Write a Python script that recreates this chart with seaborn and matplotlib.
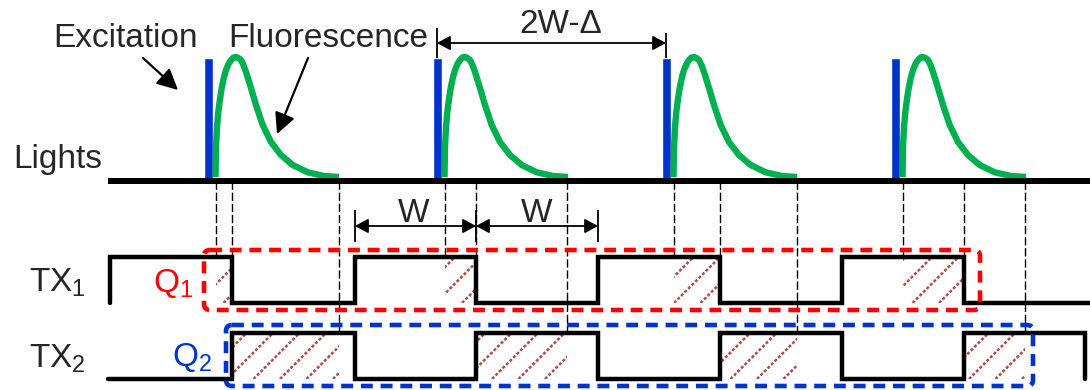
import matplotlib.pyplot as plt
import matplotlib.patches as mpatches
import numpy as np
import pandas as pd
import seaborn as sns

# excitation pulse times (px along the time axis)
excitation = [208, 437, 666, 895]
# one fluorescence decay: offset from pulse / height
fluor_dt = [7.5, 8, 9, 10.3, 12, 13.7, 16, 18, 20.5, 23, 25.5, 28, 30.5, 33,
            35.5, 38, 40.5, 43, 48, 54.7, 63, 73, 84.7, 99.7, 116, 131]
fluor_h = [0, 30, 50, 65, 78, 89, 100, 107, 113, 117, 119.5, 120, 119, 117,
           112, 105, 97, 89, 72, 52, 35, 22, 12, 4.7, 1, 0]

# gate signals (steps)
tx1_t = [110, 110, 232, 355, 476, 598, 720, 842, 964, 1090]
tx1_v = [0, 1, 0, 1, 0, 1, 0, 1, 0, 0]
tx2_t = [108, 232, 355, 476, 598, 720, 842, 964, 1085]
tx2_v = [0, 1, 0, 1, 0, 1, 0, 1, 0]
tx1_fall = [232, 476, 720, 964]
fluor_end = [339, 567, 797, 1025]

# integrated windows
q1_win = [(216, 232), (445, 476), (674, 720), (903, 964)]
q2_win = [(232, 339), (476, 567), (720, 797), (964, 1025)]

BLUE = "#0033CC"
GREEN = "#00B050"
RED = "#FF0000"
HATCH = "#B04A44"

sns.set_theme(style="white")
plt.rcParams["font.family"] = ["Liberation Sans", "DejaVu Sans"]
plt.rcParams["mathtext.fontset"] = "custom"
plt.rcParams["mathtext.rm"] = "Liberation Sans"

base = 181
tx1_hi, tx1_lo = 257, 303
tx2_hi, tx2_lo = 333, 379

fig = plt.figure(figsize=(10.9, 3.9), dpi=100)
ax = fig.add_axes([0, 0, 1, 1])

# excitation pulses
ax.bar(excitation, height=58 - base, bottom=base, width=9, color=BLUE, zorder=2)

# fluorescence curves
rows = [(k, c + dt, base - 4 - h)
        for k, c in enumerate(excitation)
        for dt, h in zip(fluor_dt, fluor_h)]
df = pd.DataFrame(rows, columns=["pulse", "t", "y"])
sns.lineplot(data=df, x="t", y="y", units="pulse", estimator=None, sort=False,
             color=GREEN, lw=4.6, ax=ax, zorder=3, legend=False,
             solid_joinstyle="round", solid_capstyle="butt")

# lights baseline
ax.plot([108, 1090], [base, base], color="black", lw=4.3, zorder=4,
        solid_capstyle="butt")

# dashed guide lines
guide = dict(colors="black", lw=1.0, linestyles=(0, (6, 2)), zorder=1)
ax.vlines([c + 8 for c in excitation], base, tx1_hi, **guide)
ax.vlines(tx1_fall, base, tx1_hi, **guide)
ax.vlines(fluor_end, base, tx2_hi, **guide)

# hatched integration windows (dotted diagonal lines, clipped to the window)
def hatch(x0, x1, top, bot):
    clip = mpatches.Rectangle((x0, top), x1 - x0, bot - top, fill=False, lw=0)
    ax.add_patch(clip)
    for k in np.arange(871 - 26.5 * 30, 871 + 26.5 * 30, 26.5):
        if k - bot > x1 or k - top < x0:
            continue
        ln, = ax.plot([k - bot, k - top], [bot, top], color=HATCH, lw=1.8,
                      ls=(0, (1.2, 0.8)), zorder=2)
        ln.set_clip_path(clip)

for x0, x1 in q1_win:
    hatch(x0, x1, tx1_hi, tx1_lo)
for x0, x1 in q2_win:
    hatch(x0, x1, tx2_hi, tx2_lo)

# TX signals
def level(v, hi, lo):
    return [hi if s else lo for s in v]

ax.plot(tx1_t, level(tx1_v, tx1_hi, tx1_lo), drawstyle="steps-post", color="black",
        lw=3.2, solid_joinstyle="miter", solid_capstyle="round", zorder=5)
ax.plot(tx2_t, level(tx2_v, tx2_hi, tx2_lo), drawstyle="steps-post", color="black",
        lw=3.2, solid_joinstyle="miter", solid_capstyle="round", zorder=5)

# dashed Q boxes
ax.add_patch(mpatches.FancyBboxPatch((204, 250), 776, 60,
                                     boxstyle="round,pad=0,rounding_size=6",
                                     fill=False, ec=RED, lw=3.3,
                                     ls=(0, (2.6, 1.7)), zorder=6))
ax.add_patch(mpatches.FancyBboxPatch((226, 325), 807, 61,
                                     boxstyle="round,pad=0,rounding_size=6",
                                     fill=False, ec=BLUE, lw=3.3,
                                     ls=(0, (2.6, 1.7)), zorder=6))

# dimension arrows
dim = dict(arrowstyle="<|-|>,head_length=0.57,head_width=0.31", mutation_scale=14,
           lw=1.3, color="black", shrinkA=0, shrinkB=0)
ax.annotate("", xy=(437, 43), xytext=(666, 43), arrowprops=dim)
ax.annotate("", xy=(355, 226), xytext=(476, 226), arrowprops=dim)
ax.annotate("", xy=(476, 226), xytext=(598, 226), arrowprops=dim)
ax.vlines([437], 28, 58, colors="black", lw=1.3)
ax.vlines([666], 33, 58, colors="black", lw=1.3)
ax.vlines([355, 476, 598], 210, 242, colors="black", lw=1.3)

# pointer arrows
ptr = dict(arrowstyle="-|>,head_length=0.9,head_width=0.45", mutation_scale=14,
           lw=1.6, color="black", shrinkA=0, shrinkB=0)
ax.annotate("", xy=(178, 90), xytext=(143, 58), arrowprops=ptr)
ax.annotate("", xy=(277, 134), xytext=(308, 58), arrowprops=ptr)

# text
fs = 24
ax.text(53, 47, "Excitation", fontsize=fs, va="baseline")
ax.text(228, 47, "Fluorescence", fontsize=fs, va="baseline")
ax.text(561, 33, "2W-Δ", fontsize=fs, ha="center", va="baseline")
ax.text(414, 222, "W", fontsize=fs, ha="center", va="baseline")
ax.text(537, 222, "W", fontsize=fs, ha="center", va="baseline")
ax.text(13, 168, "Lights", fontsize=fs, va="baseline")
ax.text(29, 291, r"TX$_\mathregular{1}$", fontsize=fs, va="baseline")
ax.text(29, 367, r"TX$_\mathregular{2}$", fontsize=fs, va="baseline")
ax.text(153, 292, r"Q$_\mathregular{1}$", fontsize=fs, color=RED, va="baseline")
ax.text(172, 366, r"Q$_\mathregular{2}$", fontsize=fs, color=BLUE, va="baseline")

ax.set_xlim(0, 1090)
ax.set_ylim(390, 0)
ax.axis("off")

fig.savefig("out.png", dpi=100)
